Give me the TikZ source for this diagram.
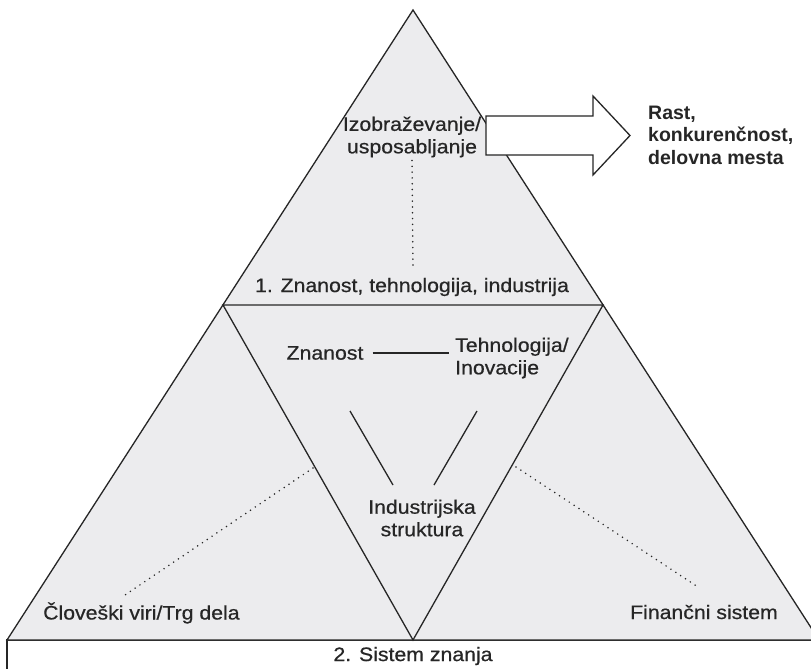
\documentclass[tikz,border=0pt]{standalone}
\usepackage{fontspec}
\setmainfont{Liberation Sans}[FakeStretch=1.09,FakeBold=0.6]
\newfontfamily\rastfont{Liberation Sans}
\usepackage{xcolor}
\definecolor{pyrfill}{RGB}{236,236,238}
\definecolor{ink}{RGB}{38,38,38}

\begin{document}
\begin{tikzpicture}[x=1pt,y=-1pt,line join=miter,
  lbl/.style={text=ink,inner sep=0pt,font=\fontsize{19.5}{22.5}\selectfont},
  edge/.style={draw=ink,line width=1.3pt},
  dots/.style={ink,line width=1.7pt,line cap=round,dash pattern=on 0pt off 5.8pt}]
  \useasboundingbox (0,0) rectangle (811,669);
  \fill[white] (0,0) rectangle (811,669);
  \draw[edge,fill=white] (7,640) rectangle (840,700);
  \draw[edge,fill=pyrfill] (413,10) -- (7,640) -- (819,640) -- cycle;
  \draw[edge] (223,305) -- (603,305) -- (413,640) -- cycle;
  \draw[edge,fill=white] (486,116) -- (593,116) -- (593,96) -- (630,135.5)
    -- (593,175) -- (593,155) -- (486,155) -- cycle;

  \node[lbl,align=center] (izo) at (412,137) {Izobraževanje/\\usposabljanje};
  \node[lbl] (zti) at (412,287) {1. Znanost, tehnologija, industrija};
  \node[lbl] (zn) at (325,353) {Znanost};
  \node[lbl,align=left,anchor=west] (teh) at (455,358) {Tehnologija/\\Inovacije};
  \node[lbl,align=center] (ind) at (422,518) {Industrijska\\struktura};
  \node[lbl,anchor=west] (clo) at (43,613) {Človeški viri/Trg dela};
  \node[lbl,anchor=east] (fin) at (778,612) {Finančni sistem};
  \node[lbl] (sis) at (413,656) {2. Sistem znanja};
  \node[lbl,align=left,anchor=west,font=\rastfont\bfseries\fontsize{19.5}{22.5}\selectfont]
    (rast) at (648,135) {Rast,\\konkurenčnost,\\delovna mesta};

  \coordinate (izoend) at (413,270);
  \coordinate (clotop) at (313,468);
  \coordinate (cloend) at (125,595);
  \coordinate (fintop) at (516,467);
  \coordinate (finend) at (698,587);
  \coordinate (zna) at (350,411);
  \coordinate (znb) at (393,485);
  \coordinate (teha) at (477,411);
  \coordinate (tehb) at (434,485);

  \draw[dots] ([yshift=-3pt]izo.south) -- (izoend);
  \draw[dots] (clotop) -- (cloend);
  \draw[dots] (fintop) -- (finend);
  \draw[ink,line width=1.3pt] ([xshift=9pt]zn.east) -- ([xshift=-6pt]teh.west |- zn);
  \draw[ink,line width=1.3pt] (zna) -- (znb);
  \draw[ink,line width=1.3pt] (teha) -- (tehb);
\end{tikzpicture}
\end{document}
